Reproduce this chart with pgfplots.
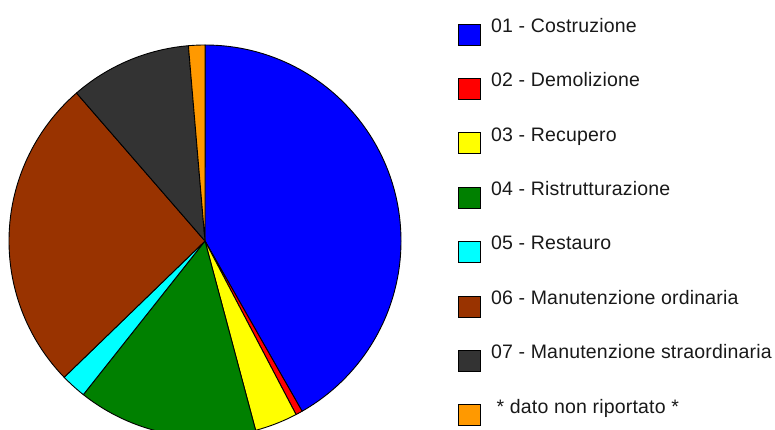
\documentclass[border=0pt]{standalone}
\usepackage{pgfplots}
\pgfplotsset{compat=1.18}
\usepackage{pgfplotstable}
\usepackage{fontspec}
\setmainfont{Liberation Sans}[LetterSpace=1.0]

\definecolor{pie0}{RGB}{0,0,255}
\definecolor{pie1}{RGB}{255,0,0}
\definecolor{pie2}{RGB}{255,255,0}
\definecolor{pie3}{RGB}{0,128,0}
\definecolor{pie4}{RGB}{0,255,255}
\definecolor{pie5}{RGB}{153,51,0}
\definecolor{pie6}{RGB}{51,51,51}
\definecolor{pie7}{RGB}{255,153,0}

\pgfplotstableread{
value
41.75
0.56
3.53
14.82
2.10
25.86
10.03
1.36
}\pietable

\begin{document}
\begin{tikzpicture}
\def\cumsum{0}
\pgfplotsforeachungrouped \i in {0,...,7}{%
  \pgfplotstablegetelem{\i}{value}\of\pietable
  \pgfmathsetmacro\sa{90-3.6*\cumsum}%
  \pgfmathsetmacro\cumsum{\cumsum+\pgfplotsretval}%
  \pgfmathsetmacro\ea{90-3.6*\cumsum}%
  \expandafter\xdef\csname sa\i\endcsname{\sa}%
  \expandafter\xdef\csname ea\i\endcsname{\ea}%
}
\begin{axis}[x=1pt, y=1pt, xmin=0, xmax=775, ymin=0, ymax=430,
  hide axis, clip=true, anchor=south west, at={(0,0)}]
\pgfplotsinvokeforeach{0,...,7}{
  \filldraw[fill=pie#1, draw=black, line width=0.9pt, line join=round]
    (axis cs:205,189) -- ++(\csname sa#1\endcsname:196pt)
    arc[start angle=\csname sa#1\endcsname, end angle=\csname ea#1\endcsname, radius=196pt] -- cycle;
  \filldraw[fill=pie#1, draw=black, line width=0.8pt]
    (axis cs:458,{385-54.4*#1}) rectangle (axis cs:480,{406-54.4*#1});
}
\tikzset{legtext/.style={anchor=base west, inner sep=0pt, font=\fontsize{19.5}{22}\selectfont, text=black!90}}
\node[legtext] at (axis cs:491,{397.7-54.4*0}) {01 - Costruzione};
\node[legtext] at (axis cs:491,{397.7-54.4*1}) {02 - Demolizione};
\node[legtext] at (axis cs:491,{397.7-54.4*2}) {03 - Recupero};
\node[legtext] at (axis cs:491,{397.7-54.4*3}) {04 - Ristrutturazione};
\node[legtext] at (axis cs:491,{397.7-54.4*4}) {05 - Restauro};
\node[legtext] at (axis cs:491,{397.7-54.4*5}) {06 - Manutenzione ordinaria};
\node[legtext] at (axis cs:491,{397.7-54.4*6}) {07 - Manutenzione straordinaria};
\node[legtext] at (axis cs:496.5,{397.7-54.4*7}) {* dato non riportato *};
\end{axis}
\pgfresetboundingbox
\path[use as bounding box] (0,0) rectangle (775pt,430pt);
\end{tikzpicture}
\end{document}
